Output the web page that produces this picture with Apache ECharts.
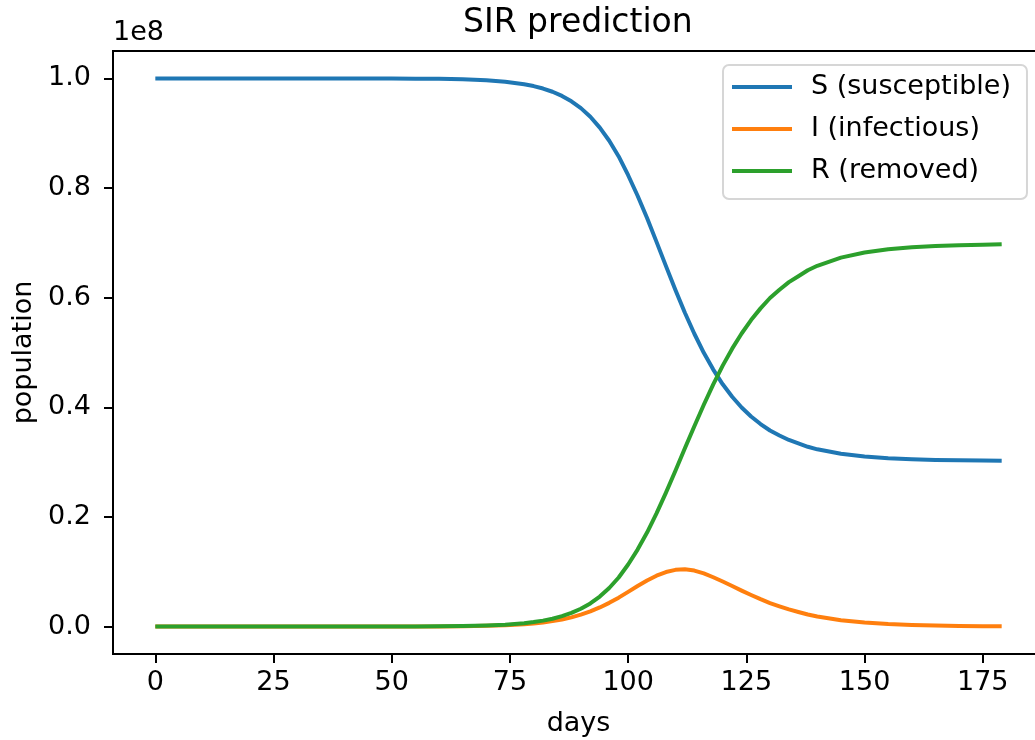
<!DOCTYPE html>
<html><head><meta charset="utf-8">
<script src="https://cdn.jsdelivr.net/npm/echarts@6/dist/echarts.min.js"></script>
<style>html,body{margin:0;padding:0;background:#fff}#c{width:1035px;height:740px}</style>
</head><body><div id="c"></div>
<script>
// days sampled
const days = [0,10,20,30,40,50,55,60,65,70,74,78,80,82,84,86,88,90,92,94,96,98,100,102,104,106,108,110,112,114,116,118,120,122,124,126,128,130,132,134,136,138,140,145,150,155,160,165,170,175,179];
// population, in units of 1e8
const S = [1.0,1.0,1.0,1.0,1.0,0.9998,0.9996,0.9992,0.9983,0.9966,0.9940,0.9894,0.9860,0.9815,0.9757,0.9680,0.9582,0.9458,0.9300,0.9103,0.8863,0.8577,0.8234,0.7859,0.7452,0.7018,0.6576,0.6141,0.5725,0.5342,0.4995,0.4688,0.4420,0.4192,0.3997,0.3833,0.3695,0.3577,0.3486,0.3404,0.3342,0.3280,0.3234,0.3152,0.3102,0.3071,0.3052,0.3040,0.3033,0.3028,0.3026];
const I = [0,0,0,0,0,0.0001,0.0002,0.0003,0.0007,0.0014,0.0025,0.0044,0.0058,0.0076,0.0100,0.0130,0.0169,0.0217,0.0277,0.0349,0.0433,0.0528,0.0633,0.0740,0.0840,0.0928,0.0995,0.1035,0.1045,0.1022,0.0970,0.0900,0.0822,0.0740,0.0656,0.0576,0.0500,0.0429,0.0369,0.0313,0.0267,0.0220,0.0184,0.0117,0.0073,0.0046,0.0029,0.0018,0.0011,0.0007,0.0004];
const R = [0,0,0,0,0,0.0001,0.0002,0.0005,0.0010,0.0020,0.0035,0.0062,0.0082,0.0109,0.0144,0.0190,0.0249,0.0325,0.0423,0.0548,0.0704,0.0895,0.1133,0.1405,0.1715,0.2065,0.2444,0.2843,0.3252,0.3656,0.4047,0.4417,0.4761,0.5070,0.5347,0.5591,0.5805,0.5994,0.6145,0.6283,0.6391,0.6500,0.6582,0.6731,0.6825,0.6883,0.6919,0.6942,0.6956,0.6965,0.6975];
const seriesNames = ['S (susceptible)','I (infectious)','R (removed)'];
const xTicks = [0,25,50,75,100,125,150,175];
const yTicks = [0,0.2,0.4,0.6,0.8,1.0];

const FF = 'DejaVu Sans';
const pair = arr => days.map((d,i)=>[d,arr[i]]);
const chart = echarts.init(document.getElementById('c'), null, {renderer:'canvas'});
const lineSeries = (name, arr, color) => ({
  name, type:'line', data: pair(arr), showSymbol:false, symbol:'none', smooth:false,
  lineStyle:{width:4, color, join:'round', cap:'butt'}, itemStyle:{color}, z:2
});
chart.setOption({
  animation:false,
  textStyle:{fontFamily:FF},
  title:{text:'SIR prediction', left:458, top:2, textStyle:{fontFamily:FF, fontSize:33, fontWeight:'normal', color:'#000'}},
  legend:{
    orient:'vertical', left:723, top:65, icon:'rect', itemWidth:60, itemHeight:4, itemGap:10,
    padding:[6,16,12,9], backgroundColor:'rgba(255,255,255,0.8)', borderColor:'#d6d6d6', borderWidth:2, borderRadius:6,
    textStyle:{fontFamily:FF, fontSize:27, color:'#000', lineHeight:32, padding:[0,0,0,14]},
    data:seriesNames
  },
  grid:{left:113, top:51, width:931, height:603, outerBoundsMode:'none', containLabel:false, show:true, borderColor:'#000', borderWidth:2, backgroundColor:'transparent'},
  xAxis:{
    type:'value', min:-8.95, max:187.95,
    name:'days', nameLocation:'middle', nameGap:56,
    nameTextStyle:{fontFamily:FF, fontSize:27, color:'#000'},
    axisLine:{show:true, onZero:false, lineStyle:{color:'#000', width:2}},
    axisTick:{show:true, customValues:xTicks, length:9, lineStyle:{color:'#000', width:2}},
    axisLabel:{customValues:xTicks, fontFamily:FF, fontSize:27, color:'#000', margin:15},
    splitLine:{show:false}
  },
  yAxis:[{
    type:'value', min:-0.05, max:1.05,
    name:'population', nameLocation:'middle', nameGap:74,
    nameTextStyle:{fontFamily:FF, fontSize:27, color:'#000'},
    axisLine:{show:true, onZero:false, lineStyle:{color:'#000', width:2}},
    axisTick:{show:true, customValues:yTicks, length:9, lineStyle:{color:'#000', width:2}},
    axisLabel:{customValues:yTicks, fontFamily:FF, fontSize:27, color:'#000', margin:22, formatter:v=>v.toFixed(1)},
    splitLine:{show:false}
  },{
    type:'value', min:-0.05, max:1.05, position:'left',
    name:'1e8', nameLocation:'end', nameGap:5,
    nameTextStyle:{fontFamily:FF, fontSize:27, color:'#000', align:'left', verticalAlign:'bottom'},
    axisLine:{show:false, onZero:false}, axisTick:{show:false}, axisLabel:{show:false}, splitLine:{show:false}
  }],
  series:[
    lineSeries(seriesNames[0], S, '#1f77b4'),
    lineSeries(seriesNames[1], I, '#ff7f0e'),
    lineSeries(seriesNames[2], R, '#2ca02c')
  ]
});
</script></body></html>
